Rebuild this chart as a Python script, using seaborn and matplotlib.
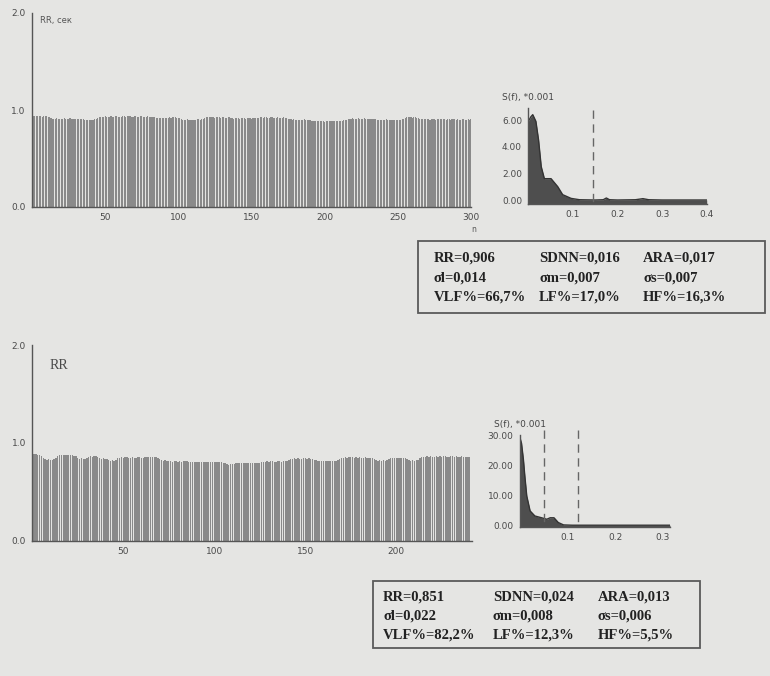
import numpy as np
import pandas as pd
import matplotlib
matplotlib.use("Agg")
import matplotlib.pyplot as plt
from matplotlib.patches import Rectangle
from matplotlib.ticker import MultipleLocator, FormatStrFormatter
import seaborn as sns

# ── RR intervals, record 1 (sec in thousandths) ──
rr_top_ms = [
    936, 938, 934, 937, 940, 935, 932, 936, 938, 933, 930, 925, 915, 910, 912, 908, 913, 911, 906, 909,
    912, 914, 910, 907, 911, 915, 909, 906, 912, 910, 908, 904, 909, 911, 903, 898, 901, 897, 895, 899,
    902, 898, 903, 906, 915, 924, 928, 931, 929, 933, 930, 927, 932, 934, 929, 931, 935, 933, 930, 928,
    932, 936, 934, 930, 933, 937, 935, 931, 929, 934, 936, 932, 930, 933, 935, 931, 928, 932, 934, 930,
    927, 931, 929, 925, 921, 918, 914, 916, 920, 918, 915, 919, 922, 924, 921, 926, 928, 925, 922, 920,
    914, 906, 901, 898, 900, 903, 899, 897, 902, 900, 896, 899, 903, 905, 901, 904, 912, 921, 926, 929,
    924, 927, 930, 926, 922, 925, 928, 923, 920, 924, 926, 921, 919, 923, 925, 920, 916, 912, 915, 918,
    913, 910, 914, 917, 915, 912, 916, 919, 914, 911, 915, 918, 920, 916, 921, 925, 923, 920, 924, 927,
    922, 919, 923, 926, 921, 918, 922, 925, 920, 917, 921, 924, 919, 916, 912, 907, 903, 900, 904, 901,
    898, 902, 899, 896, 900, 903, 897, 894, 899, 895, 889, 886, 884, 888, 885, 882, 886, 889, 884, 881,
    885, 888, 883, 886, 889, 884, 887, 882, 885, 888, 884, 889, 893, 897, 902, 908, 912, 909, 913, 910,
    907, 911, 914, 909, 906, 910, 913, 908, 911, 907, 904, 909, 912, 908, 905, 901, 898, 902, 899, 896,
    900, 903, 898, 895, 899, 902, 897, 894, 898, 901, 896, 899, 904, 912, 920, 925, 928, 924, 927, 922,
    926, 923, 919, 914, 908, 904, 907, 903, 906, 909, 905, 902, 906, 908, 904, 901, 905, 907, 903, 906,
    909, 905, 902, 906, 903, 900, 904, 907, 903, 901, 905, 902, 899, 903, 906, 902, 900, 904, 901, 903,
]

# ── RR intervals, record 2 ──
rr_bot_ms = [
    882, 885, 879, 876, 868, 850, 835, 828, 831, 826, 829, 834, 848, 866, 874, 878, 876, 872, 875, 879,
    877, 873, 870, 862, 845, 838, 842, 836, 840, 847, 858, 862, 859, 864, 861, 857, 848, 840, 843, 838,
    830, 822, 818, 821, 817, 826, 842, 849, 852, 848, 851, 855, 850, 847, 853, 849, 846, 851, 854, 850,
    848, 852, 857, 854, 858, 855, 852, 856, 850, 838, 824, 819, 821, 815, 810, 813, 808, 811, 814, 809,
    812, 807, 810, 814, 811, 808, 806, 809, 805, 802, 806, 803, 807, 804, 801, 805, 808, 803, 806, 802,
    805, 801, 804, 800, 796, 790, 783, 778, 781, 779, 788, 792, 795, 791, 794, 797, 793, 796, 799, 795,
    792, 796, 798, 794, 797, 800, 803, 808, 811, 807, 810, 813, 809, 806, 810, 812, 808, 811, 814, 818,
    825, 833, 838, 842, 839, 843, 840, 837, 841, 844, 839, 842, 838, 835, 829, 820, 816, 813, 817, 814,
    811, 815, 818, 814, 812, 816, 819, 826, 838, 846, 850, 853, 849, 852, 855, 851, 848, 852, 849, 853,
    850, 847, 851, 848, 845, 849, 843, 832, 823, 819, 821, 817, 820, 818, 824, 836, 844, 847, 843, 846,
    849, 845, 842, 846, 843, 838, 827, 819, 821, 817, 822, 828, 845, 856, 860, 858, 862, 859, 861, 857,
    860, 863, 859, 862, 858, 861, 864, 860, 857, 861, 863, 859, 862, 860, 858, 861, 857, 859, 856, 852,
]

# ── spectra S(f)*0.001 ──
spec_top_f = [0.0, 0.006, 0.010, 0.017, 0.023, 0.029, 0.036, 0.051, 0.066, 0.077, 0.096, 0.115,
              0.150, 0.168, 0.175, 0.182, 0.200, 0.240, 0.257, 0.270, 0.300, 0.350, 0.400]
spec_top_s = [5.9, 6.25, 6.4, 5.9, 4.5, 2.5, 1.6, 1.6, 1.0, 0.4, 0.12, 0.02,
              0.0, 0.02, 0.15, 0.02, 0.0, 0.02, 0.1, 0.02, 0.0, 0.0, 0.0]
spec_top_bounds = [0.146]

spec_bot_f = [0.0, 0.004, 0.008, 0.011, 0.015, 0.022, 0.032, 0.046, 0.057, 0.064, 0.072, 0.081,
              0.092, 0.110, 0.150, 0.200, 0.250, 0.300, 0.315]
spec_bot_s = [29.8, 27.5, 22.0, 16.4, 9.8, 4.8, 3.1, 2.5, 2.0, 2.5, 2.5, 0.9,
              0.1, 0.0, 0.0, 0.0, 0.0, 0.0, 0.0]
spec_bot_bounds = [0.051, 0.123]

# ── summary indices ──
stats_top = [["RR=0,906", "SDNN=0,016", "ARA=0,017"],
             ["σl=0,014", "σm=0,007", "σs=0,007"],
             ["VLF%=66,7%", "LF%=17,0%", "HF%=16,3%"]]
stats_bot = [["RR=0,851", "SDNN=0,024", "ARA=0,013"],
             ["σl=0,022", "σm=0,008", "σs=0,006"],
             ["VLF%=82,2%", "LF%=12,3%", "HF%=5,5%"]]

BG = "#e5e5e3"
BAR = "#8a8a8a"
AX = "#555555"
FILL = "#4e4e4e"
TXT = "#222222"

sns.set_style("white")
plt.rcParams["font.family"] = ["Liberation Sans Narrow", "DejaVu Sans"]
plt.rcParams["axes.facecolor"] = BG
plt.rcParams["figure.facecolor"] = BG

W, H = 770, 676
fig = plt.figure(figsize=(7.7, 6.76), dpi=100)


def px_axes(x0, y0, x1, y1):
    # pixel box (top-left origin) -> figure axes
    return fig.add_axes([x0 / W, 1 - y1 / H, (x1 - x0) / W, (y1 - y0) / H])


def style_axes(ax):
    sns.despine(ax=ax)
    for s in ("left", "bottom"):
        ax.spines[s].set_color(AX)
        ax.spines[s].set_linewidth(1.0)
    ax.tick_params(axis="both", which="major", length=2.5, width=0.8, color=AX,
                   labelsize=6.5, labelcolor="#4a4a4a", pad=2)
    ax.tick_params(axis="both", which="minor", length=1.5, width=0.6, color=AX)
    ax.set_xlabel("")
    ax.set_ylabel("")
    ax.set_facecolor(BG)


def rr_chart(ax, rr_ms, xmax, xticks):
    df = pd.DataFrame({"n": np.arange(1, len(rr_ms) + 1),
                       "rr": np.array(rr_ms) / 1000.0})
    sns.barplot(data=df, x="n", y="rr", native_scale=True, color=BAR,
                width=0.75, linewidth=0, saturation=1, ax=ax)
    ax.set_xlim(0, xmax)
    ax.set_ylim(0, 2.0)
    ax.set_xticks(xticks)
    ax.set_xticklabels([str(t) for t in xticks])
    ax.set_yticks([0, 1, 2])
    ax.yaxis.set_major_formatter(FormatStrFormatter("%.1f"))
    ax.yaxis.set_minor_locator(MultipleLocator(0.2))
    style_axes(ax)


def spectrum(ax, f, s, bounds, xmax, ymin, ymax, ymaj, ymin_tick, xticks, vl_top):
    df = pd.DataFrame({"f": f, "s": s})
    ax.fill_between(df["f"], df["s"], ymin, color=FILL, lw=0)
    sns.lineplot(data=df, x="f", y="s", color="#333333", lw=1.0, ax=ax)
    ax.set_xlim(0, xmax)
    ax.set_ylim(ymin, ymax)
    ax.set_xticks(xticks)
    ax.set_xticklabels([f"{t:.1f}" for t in xticks])
    ax.yaxis.set_major_locator(MultipleLocator(ymaj))
    ax.yaxis.set_minor_locator(MultipleLocator(ymin_tick))
    ax.yaxis.set_major_formatter(FormatStrFormatter("%.2f"))
    for b in bounds:
        ax.plot([b, b], [vl_top, ymin + 0.02 * (ymax - ymin)], color="#666666",
                lw=1.0, ls=(0, (6, 4)), clip_on=False)
    style_axes(ax)
    ax.text(0.0, 1.06, "S(f), *0.001", transform=ax.transAxes, ha="center",
            va="bottom", fontsize=6.5, color="#444444")


def stats_box(x0, y0, x1, y1, rows, cols_px, rows_px):
    ax = px_axes(x0, y0, x1, y1)
    ax.set_xlim(x0, x1)
    ax.set_ylim(y1, y0)
    ax.axis("off")
    ax.add_patch(Rectangle((x0 + 1, y0 + 1), x1 - x0 - 2, y1 - y0 - 2, fill=False,
                           ec="#5a5a5a", lw=1.3))
    for r, row in enumerate(rows):
        for c, txt in enumerate(row):
            ax.text(cols_px[c], rows_px[r], txt, ha="left", va="center",
                    fontsize=10.5, fontweight="bold", color=TXT,
                    family=["Liberation Serif", "DejaVu Serif"])


# ── record 1 ─────────────────────────────────────────────────────
ax1 = px_axes(32, 13, 471, 207)
rr_chart(ax1, rr_top_ms, 300, [50, 100, 150, 200, 250, 300])
ax1.text(0.018, 0.985, "RR, сек", transform=ax1.transAxes, fontsize=6,
         color="#555555", va="top")
ax1.text(1.0, -0.095, "n", transform=ax1.transAxes, fontsize=5.5,
         color="#555555", ha="left", va="top")

ax2 = px_axes(528.3, 108, 706.7, 204)
spectrum(ax2, spec_top_f, spec_top_s, spec_top_bounds, 0.4, -0.3, 6.9,
         2, 1, [0.1, 0.2, 0.3, 0.4], 6.75)

stats_box(417, 240, 766, 314, stats_top, [434, 539, 643], [258, 278, 297])

# ── record 2 ─────────────────────────────────────────────────────
ax3 = px_axes(32.3, 345, 471.7, 540.7)
rr_chart(ax3, rr_bot_ms, 241.5, [50, 100, 150, 200])
ax3.text(0.04, 0.93, "RR", transform=ax3.transAxes, fontsize=10,
         color="#4a4a4a", va="top", family=["Liberation Serif", "DejaVu Serif"])

ax4 = px_axes(519.6, 435, 670, 527)
spectrum(ax4, spec_bot_f, spec_bot_s, spec_bot_bounds, 0.315, -0.6, 30.3,
         10, 5, [0.1, 0.2, 0.3], 32)

stats_box(372, 580, 701, 649, stats_bot, [383, 493, 598], [597, 616, 635])

fig.savefig("out.png", dpi=100, facecolor=BG)
